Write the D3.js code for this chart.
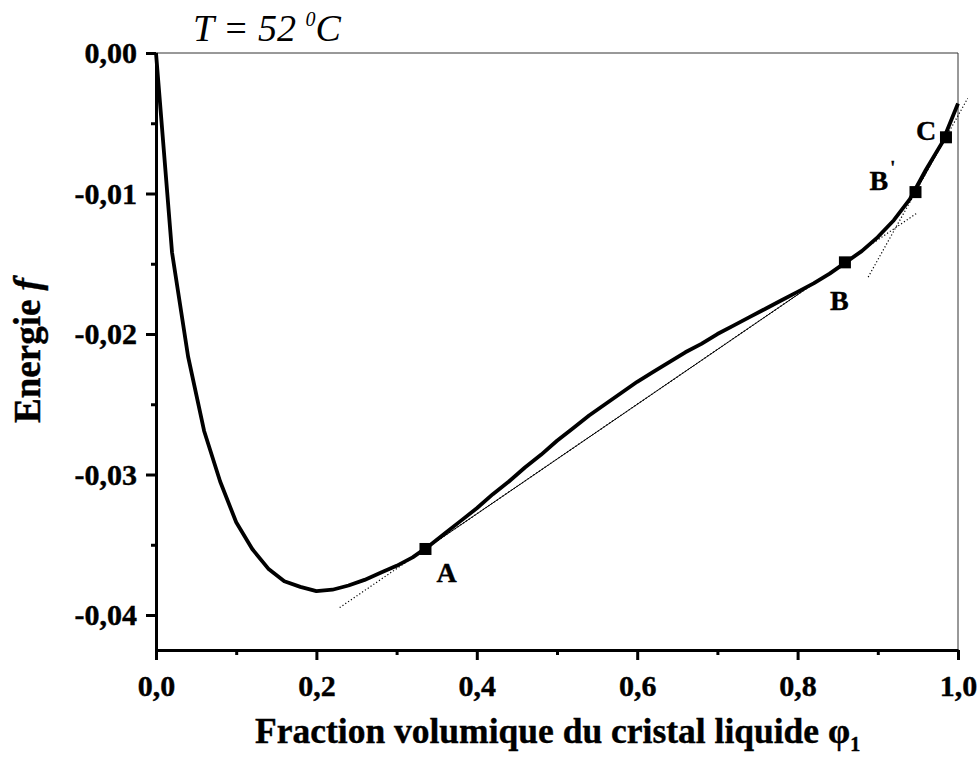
<!DOCTYPE html>
<html>
<head>
<meta charset="utf-8">
<script src="https://cdn.jsdelivr.net/npm/d3@7"></script>
<style>
  body { margin: 0; background: #fff; }
  svg { display: block; font-family: "Liberation Serif", "Times New Roman", serif; }
</style>
</head>
<body>
<script>
// Free energy curve
const phi = [0.00, 0.02, 0.04, 0.06, 0.08, 0.10, 0.12, 0.14, 0.16, 0.18,
             0.20, 0.22, 0.24, 0.26, 0.28, 0.30, 0.32, 0.34, 0.36, 0.38,
             0.40, 0.42, 0.44, 0.46, 0.48, 0.50, 0.52, 0.54, 0.56, 0.58,
             0.60, 0.62, 0.64, 0.66, 0.68, 0.70, 0.72, 0.74, 0.76, 0.78,
             0.80, 0.82, 0.84, 0.86, 0.88, 0.90, 0.92, 0.94, 0.96, 0.98, 1.00];
const energy = [0, -0.0142, -0.0216, -0.0269, -0.0305, -0.0334, -0.0353, -0.0367, -0.0376, -0.0380,
                -0.0383, -0.0382, -0.0379, -0.0375, -0.0370, -0.0365, -0.0359, -0.0351, -0.0342, -0.0333,
                -0.0324, -0.0314, -0.0305, -0.0295, -0.0286, -0.0276, -0.0267, -0.0258, -0.0250, -0.0242,
                -0.0234, -0.0227, -0.0220, -0.0213, -0.0207, -0.0200, -0.0194, -0.0188, -0.0182, -0.0176,
                -0.0170, -0.0164, -0.0157, -0.0149, -0.0141, -0.0131, -0.0119, -0.0104, -0.0083, -0.0064, -0.0036];

// Tangent points A, B, B', C
const pointNames = ["A", "B", "B'", "C"];
const pointPhi = [0.336, 0.859, 0.947, 0.985];
const pointEnergy = [-0.0353, -0.0149, -0.0099, -0.0060];

// Common tangents (dotted, extended) : [phi, energy]
const tangentAB = [[0.229, -0.03947], [0.950, -0.01135]];
const tangentBC = [[0.888, -0.01595], [1.012, -0.00323]];

// Tick values
const xMajor = [0, 0.2, 0.4, 0.6, 0.8, 1.0];
const xMinor = [0.1, 0.3, 0.5, 0.7, 0.9];
const yMajor = [0, -0.01, -0.02, -0.03, -0.04];
const yMinor = [-0.005, -0.015, -0.025, -0.035];

const W = 979, H = 763;
const margin = { top: 53, right: 21, bottom: 113, left: 156 };
const width = W - margin.left - margin.right;
const height = H - margin.top - margin.bottom;

const svg = d3.select("body")
    .append("svg")
    .attr("width", W)
    .attr("height", H);

const g = svg.append("g")
    .attr("transform", `translate(${margin.left}, ${margin.top})`);

const x = d3.scaleLinear().domain([0, 1]).range([0, width]);
const y = d3.scaleLinear().domain([-0.04249, 0]).range([height, 0]);

const fmtX = (d) => d.toFixed(1).replace(".", ",");
const fmtY = (d) => (d === 0 ? 0 : d).toFixed(2).replace(".", ",");

// Frame: top and right thin lines
g.append("line")
    .attr("x1", 0).attr("x2", width).attr("y1", 0).attr("y2", 0)
    .attr("stroke", "#333").attr("stroke-width", 1);
g.append("line")
    .attr("x1", width).attr("x2", width).attr("y1", 0).attr("y2", height)
    .attr("stroke", "#333").attr("stroke-width", 1);

// X axis
g.append("g")
    .attr("transform", `translate(0, ${height})`)
    .call(d3.axisBottom(x).tickValues(xMajor).tickFormat(fmtX).tickSize(10).tickSizeOuter(0).tickPadding(15));
g.append("g")
    .attr("transform", `translate(0, ${height})`)
    .call(d3.axisBottom(x).tickValues(xMinor).tickFormat("").tickSize(5).tickSizeOuter(0))
    .select(".domain").remove();

// Y axis
g.append("g")
    .call(d3.axisLeft(y).tickValues(yMajor).tickFormat(fmtY).tickSize(10).tickSizeOuter(0).tickPadding(9));
g.append("g")
    .call(d3.axisLeft(y).tickValues(yMinor).tickFormat("").tickSize(5).tickSizeOuter(0))
    .select(".domain").remove();

g.selectAll(".domain").attr("stroke", "#000").attr("stroke-width", 3);
g.selectAll(".tick line").attr("stroke", "#000").attr("stroke-width", 3);
g.selectAll(".tick text")
    .attr("fill", "#000")
    .attr("stroke", "#000")
    .attr("stroke-width", 0.4)
    .style("font-family", "'Liberation Serif', serif")
    .style("font-weight", "bold")
    .style("font-size", "30px");

// Tangent lines
const line = d3.line()
    .x((d) => x(d[0]))
    .y((d) => y(d[1]));

[tangentAB, tangentBC].forEach((t) => {
    g.append("path")
        .datum(t)
        .attr("d", line)
        .attr("fill", "none")
        .attr("stroke", "#000")
        .attr("stroke-width", 1.2)
        .attr("stroke-dasharray", "1.2,2.2");
});
[[0, 1], [2, 3]].forEach(([i, j]) => {
    g.append("path")
        .datum([[pointPhi[i], pointEnergy[i]], [pointPhi[j], pointEnergy[j]]])
        .attr("d", line)
        .attr("fill", "none")
        .attr("stroke", "#000")
        .attr("stroke-width", 1);
});

// Energy curve
g.append("path")
    .datum(phi.map((p, i) => [p, energy[i]]))
    .attr("d", line)
    .attr("fill", "none")
    .attr("stroke", "#000")
    .attr("stroke-width", 3.8)
    .attr("stroke-linejoin", "round");

// Square markers
const sq = 12;
g.selectAll("rect.pt")
    .data(pointPhi)
    .enter()
    .append("rect")
    .attr("class", "pt")
    .attr("x", (d) => x(d) - sq / 2)
    .attr("y", (d, i) => y(pointEnergy[i]) - sq / 2)
    .attr("width", sq)
    .attr("height", sq)
    .attr("fill", "#000");

// Point labels (pixel offset from marker)
const labelOffset = [[11, 33], [-15, 48], [-46, -2], [-30, 3]];
pointNames.forEach((name, i) => {
    const t = g.append("text")
        .attr("x", x(pointPhi[i]) + labelOffset[i][0])
        .attr("y", y(pointEnergy[i]) + labelOffset[i][1])
        .attr("stroke", "#000")
        .attr("stroke-width", 0.4)
        .style("font-weight", "bold")
        .style("font-size", "28px");
    if (name === "B'") {
        t.append("tspan").text("B");
        t.append("tspan").attr("dx", 2).attr("dy", -16).style("font-size", "18px").text("'");
    } else {
        t.text(name);
    }
});

// Title
const title = svg.append("text")
    .attr("x", 193)
    .attr("y", 41)
    .style("font-style", "italic")
    .style("font-size", "38px");
title.append("tspan").text("T = 52 ");
title.append("tspan").attr("dy", -15).style("font-size", "20px").text("0");
title.append("tspan").attr("dy", 15).text("C");

// X axis title
const xt = svg.append("text")
    .attr("x", 255)
    .attr("y", 743)
    .attr("stroke", "#000")
    .attr("stroke-width", 0.4)
    .style("font-weight", "bold")
    .style("font-size", "35.5px");
xt.append("tspan").text("Fraction volumique du cristal liquide φ");
xt.append("tspan").attr("dy", 8).style("font-size", "20px").text("1");

// Y axis title
const yt = svg.append("text")
    .attr("transform", `translate(40, ${margin.top + height / 2 - 1}) rotate(-90)`)
    .attr("text-anchor", "middle")
    .attr("stroke", "#000")
    .attr("stroke-width", 0.4)
    .style("font-weight", "bold")
    .style("font-size", "37px");
yt.append("tspan").text("Energie ");
yt.append("tspan").style("font-style", "italic").text("f");
</script>
</body>
</html>
